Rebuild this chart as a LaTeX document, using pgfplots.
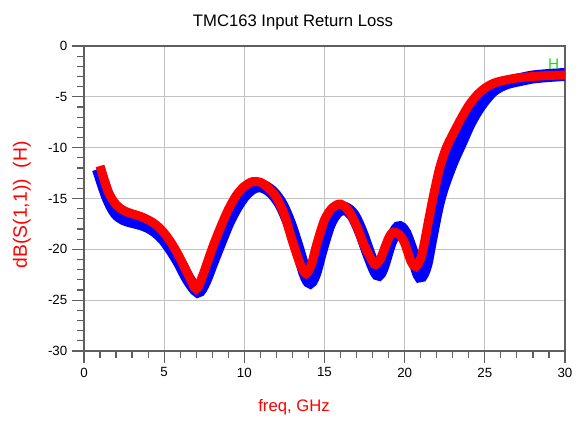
\documentclass[border=0pt]{standalone}
\usepackage{fontspec}
\setmainfont{Liberation Sans}
\usepackage{pgfplots}
\pgfplotsset{compat=1.18}
\definecolor{axgray}{RGB}{95,95,95}
\definecolor{gridgray}{RGB}{195,195,195}
\definecolor{hgreen}{RGB}{20,225,20}
\begin{document}
\begin{tikzpicture}
\path[use as bounding box] (-63pt,-54pt) rectangle (369pt,263.25pt);
\begin{axis}[
  at={(0,0)}, anchor=south west,
  scale only axis,
  width=360.75pt, height=228.75pt,
  xmin=0, xmax=30, ymin=-30, ymax=0,
  xtick={0,5,...,30},
  ytick={-30,-25,-20,-15,-10,-5,0},
  yticklabels={-30,-25,-20,-15,-10,-5,0},
  minor x tick num=4, minor y tick num=4,
  tick align=outside,
  major tick length=9pt, minor tick length=5pt,
  xtick pos=left, ytick pos=left,
  every tick/.style={axgray, line width=0.9pt},
  axis line style={axgray, line width=1.4pt},
  grid=major,
  major grid style={gridgray, line width=0.9pt},
  /pgf/number format/assume math mode=true,
  tick label style={font=\fontsize{10}{12}\selectfont, black},
  title={TMC163 Input Return Loss},
  title style={font=\fontsize{12.5}{14}\selectfont, at={(axis description cs:0.4345,1.085)}, anchor=center, yshift=-7.5pt},
  xlabel={freq, GHz},
  xlabel style={font=\fontsize{12.5}{14}\selectfont, red, at={(axis description cs:0.4366,-0.1836)}, anchor=center},
  ylabel={dB(S(1,1))\ \ (H)},
  ylabel style={font=\fontsize{14.5}{16}\selectfont, red, at={(axis description cs:-0.129,0.479)}, anchor=center, rotate=0},
  clip=true,
]
\addplot[blue, line width=9.75pt, smooth] coordinates {
(0.9,-12.1) (1.5,-14.9) (2.0,-16.4) (2.5,-17.0) (3.0,-17.25) (3.5,-17.45) (4.0,-17.75) (4.5,-18.25) (5.0,-19.0) (5.5,-20.1) (6.0,-21.4) (6.5,-22.9) (7.1,-24.1) (7.5,-23.2) (8.0,-21.2) (8.5,-19.2) (9.0,-17.3) (9.5,-15.8) (10.0,-14.65) (10.5,-13.95) (10.9,-13.75) (11.3,-13.9) (11.8,-14.5) (12.3,-15.6) (12.8,-17.4) (13.3,-19.8) (13.8,-22.4) (14.1,-23.2) (14.4,-22.3) (14.8,-20.0) (15.3,-17.5) (15.8,-16.25) (16.3,-16.0) (16.8,-16.7) (17.3,-18.4) (17.8,-20.6) (18.3,-22.4) (18.6,-21.8) (19.1,-19.3) (19.6,-17.9) (20.0,-18.4) (20.5,-20.5) (20.95,-22.6) (21.3,-21.6) (21.6,-19.2) (22.0,-16.0) (22.3,-14.2) (22.63,-12.7) (23.0,-11.2) (23.46,-9.6) (24.0,-7.7) (24.5,-6.3) (25.0,-5.2) (25.5,-4.35) (26.0,-3.85) (26.5,-3.55) (27.2,-3.3) (28.0,-3.05) (29.0,-2.9) (30.0,-2.8)
};
\addplot[red, line width=6.75pt, smooth] coordinates {
(1.0,-11.8) (1.5,-14.3) (2.0,-15.6) (2.5,-16.2) (3.0,-16.5) (3.5,-16.75) (4.0,-17.1) (4.5,-17.6) (5.0,-18.4) (5.5,-19.5) (6.0,-20.9) (6.5,-22.5) (7.0,-23.9) (7.4,-22.6) (8.0,-19.9) (8.5,-17.9) (9.0,-16.1) (9.5,-14.7) (10.0,-13.8) (10.5,-13.35) (11.0,-13.4) (11.5,-13.95) (12.0,-14.9) (12.5,-16.6) (13.0,-19.2) (13.5,-21.5) (13.85,-22.4) (14.2,-21.4) (14.5,-19.6) (15.0,-17.1) (15.5,-15.9) (16.0,-15.55) (16.5,-16.2) (17.0,-17.7) (17.5,-19.7) (18.0,-21.2) (18.2,-21.5) (18.5,-20.9) (19.0,-18.9) (19.3,-18.3) (19.7,-18.6) (20.0,-19.4) (20.4,-21.2) (20.7,-21.7) (21.0,-20.9) (21.2,-19.6) (21.5,-17.1) (21.8,-14.7) (22.2,-11.9) (22.6,-10.0) (23.0,-8.7) (23.5,-7.2) (24.0,-5.85) (24.5,-4.85) (25.0,-4.15) (25.5,-3.7) (26.0,-3.45) (27.0,-3.15) (28.0,-3.0) (29.0,-2.9) (30.0,-2.85)
};
\node[hgreen, font=\fontsize{11.5}{13}\selectfont] at (axis cs:29.3,-1.8) {H};
\end{axis}
\end{tikzpicture}
\end{document}
